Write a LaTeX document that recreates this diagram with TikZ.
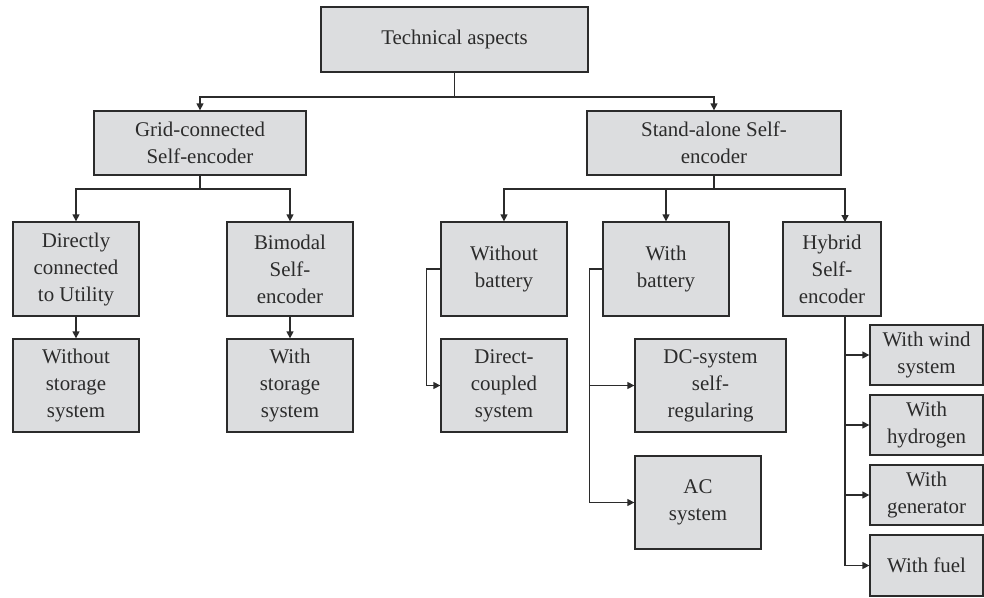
\documentclass[tikz,border=0pt]{standalone}
\usepackage{fontspec}
\setmainfont{Liberation Serif}
\usetikzlibrary{arrows.meta}
\definecolor{boxc}{HTML}{DCDDDF}
\definecolor{linec}{HTML}{2B2B2B}
\begin{document}
\begin{tikzpicture}[x=1pt,y=-1pt,
  box/.style={draw=linec, fill=boxc, line width=1.3pt, align=center, inner sep=0pt,
    font=\fontsize{20.9}{27}\selectfont, text=linec},
  sz/.style 2 args={minimum width=#1pt, minimum height=#2pt},
  conn/.style={draw=linec, line width=1.3pt},
  arr/.style={conn, -{Triangle[length=7pt,width=7pt]}}]
\useasboundingbox (0,0) rectangle (984,597);
% level 0
\node[box, sz={267}{65}] (tech) at (454.5,39.5) {Technical aspects};
% level 1
\node[box, sz={212}{64}] (grid) at (200,143) {Grid-connected\\Self-encoder};
\node[box, sz={254}{64}] (stand) at (714,143) {Stand-alone Self-\\encoder};
% level 2
\node[box, sz={126}{94}] (direct) at (76,269) {Directly\\connected\\to Utility};
\node[box, sz={126}{94}] (bimodal) at (290,269) {Bimodal\\Self-\\encoder};
\node[box, sz={126}{94}] (wobat) at (504,269) {Without\\battery};
\node[box, sz={126}{94}] (wbat) at (666,269) {With\\battery};
\node[box, sz={98}{94}] (hybrid) at (832,269) {Hybrid\\Self-\\encoder};
% level 3
\node[box, sz={126}{93}] (wostor) at (76,385.5) {Without\\storage\\system};
\node[box, sz={126}{93}] (wstor) at (290,385.5) {With\\storage\\system};
\node[box, sz={126}{93}] (dcoupled) at (504,385.5) {Direct-\\coupled\\system};
\node[box, sz={151}{93}] (dcsys) at (710.5,385.5) {DC-system\\self-\\regularing};
\node[box, sz={126}{93}] (acsys) at (698,502.5) {AC\\system};
% hybrid children
\node[box, sz={113}{60}] (wind) at (926.5,355) {With wind\\system};
\node[box, sz={113}{60}] (hydro) at (926.5,425) {With\\hydrogen};
\node[box, sz={113}{60}] (gen) at (926.5,495) {With\\generator};
\node[box, sz={113}{61}] (fuel) at (926.5,565.5) {With fuel};
% connectors
\coordinate (j1) at (454.5,97);
\draw[conn] (tech.south) -- (j1);
\draw[arr] (j1) -| (grid.north);
\draw[arr] (j1) -| (stand.north);
\coordinate (j2) at (200,189);
\draw[conn] (grid.south) -- (j2);
\draw[arr] (j2) -| (direct.north);
\draw[arr] (j2) -| (bimodal.north);
\draw[arr] (direct) -- (wostor);
\draw[arr] (bimodal) -- (wstor);
\coordinate (j3) at (714,189);
\coordinate (hytop) at (845,222);
\coordinate (hybot) at (845,316);
\draw[conn] (stand.south) -- (j3);
\draw[arr] (j3) -| (wobat.north);
\draw[arr] (j3) -| (wbat.north);
\draw[arr] (j3) -| (hytop);
\draw[arr] (wobat.west) -- ++(-14,0) |- (dcoupled.west);
\draw[arr] (wbat.west) -- ++(-13,0) |- (dcsys.west);
\draw[arr] (wbat.west) -- ++(-13,0) |- (acsys.west);
\draw[arr] (hybot) |- (wind.west);
\draw[arr] (hybot) |- (hydro.west);
\draw[arr] (hybot) |- (gen.west);
\draw[arr] (hybot) |- (fuel.west);
\end{tikzpicture}
\end{document}
